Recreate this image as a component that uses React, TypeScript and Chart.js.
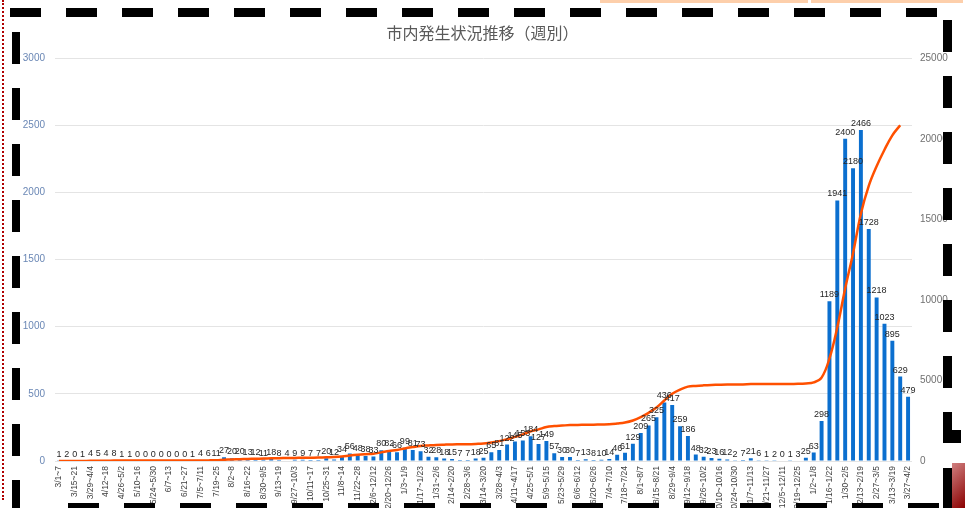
import React, { useEffect, useRef } from "react";
import { Chart, registerables } from "chart.js";

Chart.register(...registerables);

const TITLE = "市内発生状況推移（週別）";

const weekLabels: string[] = [
  "3/1~7", "3/8~14", "3/15~21", "3/22~28", "3/29~4/4", "4/5~11", "4/12~18", "4/19~25",
  "4/26~5/2", "5/3~9", "5/10~16", "5/17~23", "5/24~5/30", "5/31~6/6", "6/7~13", "6/14~20",
  "6/21~27", "6/28~7/4", "7/5~7/11", "7/12~18", "7/19~25", "7/26~8/1", "8/2~8", "8/9~15",
  "8/16~22", "8/23~29", "8/30~9/5", "9/6~12", "9/13~19", "9/20~26", "9/27~10/3", "10/4~10",
  "10/11~17", "10/18~24", "10/25~31", "11/1~7", "11/8~14", "11/15~21", "11/22~28", "11/29~12/5",
  "12/6~12/12", "12/13~12/19", "12/20~12/26", "12/27~1/2", "1/3~1/9", "1/10~1/16", "1/17~1/23", "1/24~1/30",
  "1/31~2/6", "2/7~2/13", "2/14~2/20", "2/21~2/27", "2/28~3/6", "3/7~3/13", "3/14~3/20", "3/21~3/27",
  "3/28~4/3", "4/4~4/10", "4/11~4/17", "4/18~4/24", "4/25~5/1", "5/2~5/8", "5/9~5/15", "5/16~5/22",
  "5/23~5/29", "5/30~6/5", "6/6~6/12", "6/13~6/19", "6/20~6/26", "6/27~7/3", "7/4~7/10", "7/11~7/17",
  "7/18~7/24", "7/25~7/31", "8/1~8/7", "8/8~8/14", "8/15~8/21", "8/22~8/28", "8/29~9/4", "9/5~9/11",
  "9/12~9/18", "9/19~9/25", "9/26~10/2", "10/3~10/9", "10/10~10/16", "10/17~10/23", "10/24~10/30", "10/31~11/6",
  "11/7~11/13", "11/14~11/20", "11/21~11/27", "11/28~12/4", "12/5~12/11", "12/12~12/18", "12/19~12/25", "12/26~1/1",
  "1/2~1/8", "1/9~1/15", "1/16~1/22", "1/23~1/29", "1/30~2/5", "2/6~2/12", "2/13~2/19", "2/20~2/26",
  "2/27~3/5", "3/6~3/12", "3/13~3/19", "3/20~3/26", "3/27~4/2",
];

// weekly new cases (left axis)
const weeklyCases: number[] = [
  1, 2, 0, 1, 4, 5, 4, 8, 1, 1, 0, 0, 0, 0, 0, 0, 0, 1, 4, 6,
  11, 27, 20, 20, 13, 12, 11, 18, 8, 4, 9, 9, 7, 7, 20, 12,
  34, 56, 48, 38, 33, 80, 82, 66, 99, 81, 73, 32, 28, 18,
  15, 7, 7, 18, 25, 65, 81, 122, 145, 153, 184, 127, 149, 57, 30, 30,
  7, 13, 8, 10, 14, 46, 61, 129, 209, 265, 325, 436, 417, 259, 186,
  48, 32, 23, 16, 12, 2, 7, 21, 6, 1, 2, 0, 1, 3, 25,
  63, 298, 1189, 1941, 2400, 2180, 2466, 1728, 1218, 1023, 895, 629, 479,
];

// cumulative line is plotted through week 3/20~3/26 in the source
const cumulativeWeeksShown = 108;

const leftTicks = { min: 0, max: 3000, step: 500 };
const rightTicks = { min: 0, max: 25000, step: 5000 };

const cumulative: (number | null)[] = (() => {
  let s = 0;
  return weeklyCases.map((v, i) => {
    s += v;
    return i < cumulativeWeeksShown ? s : null;
  });
})();

const valueLabels = {
  id: "valueLabels",
  afterDatasetsDraw(chart: any) {
    const meta = chart.getDatasetMeta(0);
    const ctx = chart.ctx;
    ctx.save();
    ctx.font = "9px 'Liberation Sans', 'DejaVu Sans', sans-serif";
    ctx.fillStyle = "#262626";
    ctx.textAlign = "center";
    ctx.textBaseline = "bottom";
    meta.data.forEach((bar: any, i: number) => {
      ctx.fillText(String(weeklyCases[i]), bar.x, bar.y - 2);
    });
    ctx.restore();
  },
};

function Decorations() {
  const dashH = "repeating-linear-gradient(to right, #000 0 31px, transparent 31px 56px)";
  const dashV = "repeating-linear-gradient(to bottom, #000 0 32px, transparent 32px 56px)";
  return (
    <>
      <div style={{ position: "fixed", left: 10, top: 8, width: 945, height: 9, background: dashH }} />
      <div style={{ position: "fixed", left: 12, top: 32, width: 8, height: 476, background: dashV }} />
      <div style={{ position: "fixed", left: 943, top: 20, width: 9, height: 410, background: dashV }} />
      <div style={{ position: "fixed", left: 68, top: 503, width: 880, height: 5, background: dashH }} />
      <div style={{ position: "fixed", left: 2, top: 0, width: 0, height: 500, borderLeft: "2px dotted #b00000" }} />
      <div style={{ position: "fixed", left: 600, top: 0, width: 208, height: 3, background: "#fdcfab" }} />
      <div style={{ position: "fixed", left: 811, top: 0, width: 152, height: 3, background: "#fdcfab" }} />
      <div style={{ position: "fixed", left: 943, top: 430, width: 18, height: 13, background: "#000" }} />
      <div style={{ position: "fixed", left: 943, top: 468, width: 9, height: 40, background: "#000" }} />
      <div
        style={{
          position: "fixed", left: 952, top: 463, width: 13, height: 45,
          background: "linear-gradient(135deg, #d08080, #8a0000)",
        }}
      />
    </>
  );
}

export default function App() {
  const ref = useRef<HTMLCanvasElement | null>(null);

  useEffect(() => {
    if (!ref.current) return;
    const chart = new Chart(ref.current, {
      type: "bar",
      data: {
        labels: weekLabels,
        datasets: [
          {
            type: "bar",
            label: "週別",
            data: weeklyCases,
            backgroundColor: "#0b6fcf",
            barPercentage: 0.5,
            categoryPercentage: 1,
            yAxisID: "y",
            order: 2,
          },
          {
            type: "line",
            label: "累計",
            data: cumulative,
            borderColor: "#ff5000",
            borderWidth: 2.5,
            pointRadius: 0,
            tension: 0.4,
            fill: false,
            yAxisID: "y2",
            order: 1,
          } as any,
        ],
      },
      options: {
        responsive: false,
        animation: false,
        layout: { padding: { top: 0, left: 0, right: 0, bottom: 0 } },
        plugins: {
          legend: { display: false },
          tooltip: { enabled: false },
          title: {
            display: true,
            text: TITLE,
            color: "#595959",
            font: { family: "'Noto Sans CJK JP', sans-serif", size: 16, weight: "normal" as any },
            padding: { top: 23, bottom: 16 },
          },
        },
        scales: {
          x: {
            offset: true,
            grid: { display: false, drawTicks: false },
            border: { display: false },
            ticks: {
              autoSkip: false,
              maxRotation: 90,
              minRotation: 90,
              padding: 5,
              color: "#404040",
              font: { size: 8.5, family: "'Liberation Sans', 'DejaVu Sans', sans-serif" },
              callback: (_v: any, i: number) => (i % 2 === 0 ? weekLabels[i] : ""),
            },
            afterFit: (s: any) => { s.height = 47; },
          },
          y: {
            position: "left",
            min: leftTicks.min,
            max: leftTicks.max,
            grid: { color: "#e4e4e4", drawTicks: false },
            border: { display: false },
            ticks: {
              stepSize: leftTicks.step,
              padding: 10,
              color: "#6a87b5",
              font: { size: 10, family: "'Liberation Sans', 'DejaVu Sans', sans-serif" },
              callback: (v: any) => String(v),
            },
            afterFit: (s: any) => { s.width = 55; },
          },
          y2: {
            position: "right",
            min: rightTicks.min,
            max: rightTicks.max,
            grid: { display: false, drawTicks: false },
            border: { display: false },
            ticks: {
              stepSize: rightTicks.step,
              padding: 8,
              color: "#707070",
              font: { size: 10, family: "'Liberation Sans', 'DejaVu Sans', sans-serif" },
              callback: (v: any) => String(v),
            },
            afterFit: (s: any) => { s.width = 53; },
          },
        },
      },
      plugins: [valueLabels],
    });
    return () => chart.destroy();
  }, []);

  return (
    <div style={{ position: "fixed", left: 0, top: 0, width: 965, height: 508, background: "#fff", overflow: "hidden" }}>
      <canvas ref={ref} width={965} height={508} style={{ position: "absolute", left: 0, top: 0, width: 965, height: 508 }} />
      <Decorations />
    </div>
  );
}
